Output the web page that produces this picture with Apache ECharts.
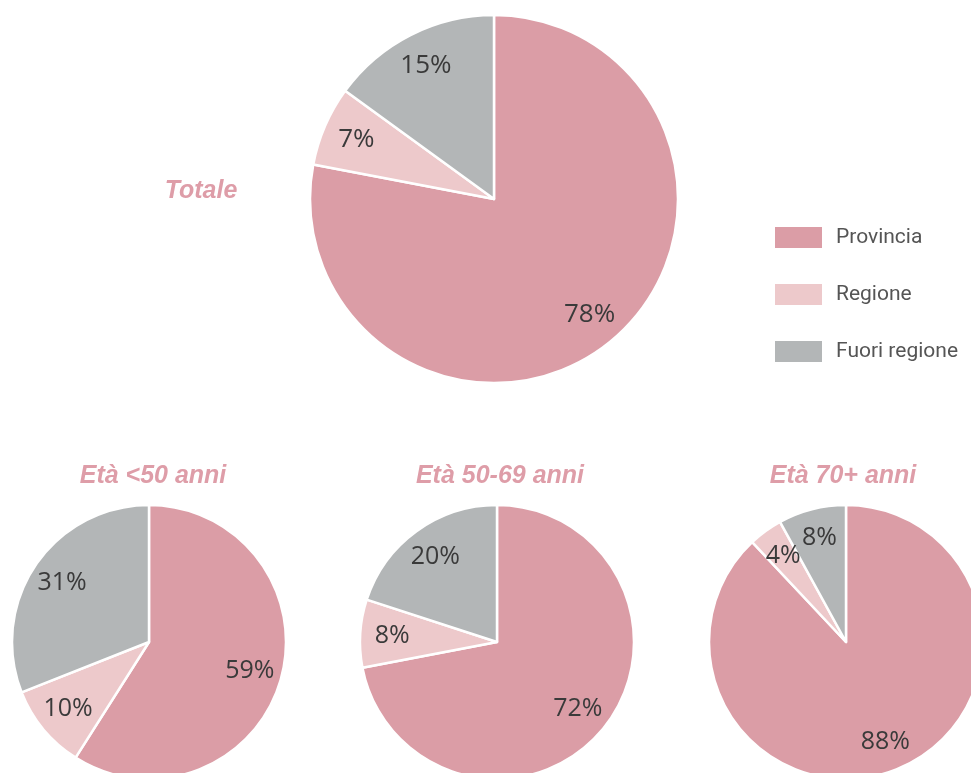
<!DOCTYPE html>
<html>
<head>
<meta charset="utf-8">
<script src="https://cdn.jsdelivr.net/npm/echarts@6/dist/echarts.min.js"></script>
<style>html,body{margin:0;padding:0;background:#fff}#c{width:971px;height:773px}</style>
</head>
<body>
<div id="c"></div>
<script>
const categories = ['Provincia', 'Regione', 'Fuori regione'];
const colors = ['#DB9DA6', '#EDC9CB', '#B3B6B7'];
const groupTitles = ['Totale', 'Età <50 anni', 'Età 50-69 anni', 'Età 70+ anni'];
const totale = [78, 7, 15];
const eta50 = [59, 10, 31];
const eta5069 = [72, 8, 20];
const eta70 = [88, 4, 8];

const groups = [
  { title: groupTitles[0], values: totale, center: [494, 199], r: 184, labelInner: 110, fs: 26, titlePos: [196, 174] },
  { title: groupTitles[1], values: eta50, center: [149, 642], r: 137, labelInner: 67, fs: 25, titlePos: [148, 459] },
  { title: groupTitles[2], values: eta5069, center: [497, 642], r: 137, labelInner: 67, fs: 25, titlePos: [495, 459] },
  { title: groupTitles[3], values: eta70, center: [846, 642], r: 137, labelInner: 71, fs: 25, titlePos: [838, 459] }
];

const toData = vals => vals.map((v, i) => ({ name: categories[i], value: v, itemStyle: { color: colors[i] } }));

const series = [];
const titles = [];
groups.forEach(g => {
  series.push({
    type: 'pie', center: g.center, radius: [0, g.r], startAngle: 90, clockwise: true,
    silent: true, animation: false,
    itemStyle: { borderColor: '#fff', borderWidth: 2.5 },
    label: { show: false }, labelLine: { show: false },
    data: toData(g.values)
  });
  series.push({
    type: 'pie', center: g.center, radius: [g.labelInner, g.r], startAngle: 90, clockwise: true,
    silent: true, animation: false, legendHoverLink: false,
    itemStyle: { color: 'transparent', borderWidth: 0 },
    label: { show: true, position: 'inside', formatter: '{c}%', color: '#3a3a3a',
      fontFamily: 'Open Sans', fontSize: g.fs },
    labelLine: { show: false },
    data: g.values.map((v, i) => ({ name: categories[i] + ' ', value: v, itemStyle: { color: 'transparent' } }))
  });
  titles.push({
    text: g.title, left: g.titlePos[0], top: g.titlePos[1], textAlign: 'center',
    textStyle: { fontFamily: 'Liberation Sans', fontStyle: 'italic', fontWeight: 'bold', fontSize: 25, color: '#DE9DA8' }
  });
});

const chart = echarts.init(document.getElementById('c'));
chart.setOption({
  backgroundColor: '#fff',
  animation: false,
  title: titles,
  legend: {
    data: categories, orient: 'vertical', left: 768, top: 220,
    itemWidth: 49, itemHeight: 23, itemGap: 32, icon: 'rect', selectedMode: false,
    textStyle: { fontFamily: 'Roboto', fontSize: 21, lineHeight: 23, color: '#555', padding: [0, 0, 0, 8] }
  },
  series: series
});
</script>
</body>
</html>
